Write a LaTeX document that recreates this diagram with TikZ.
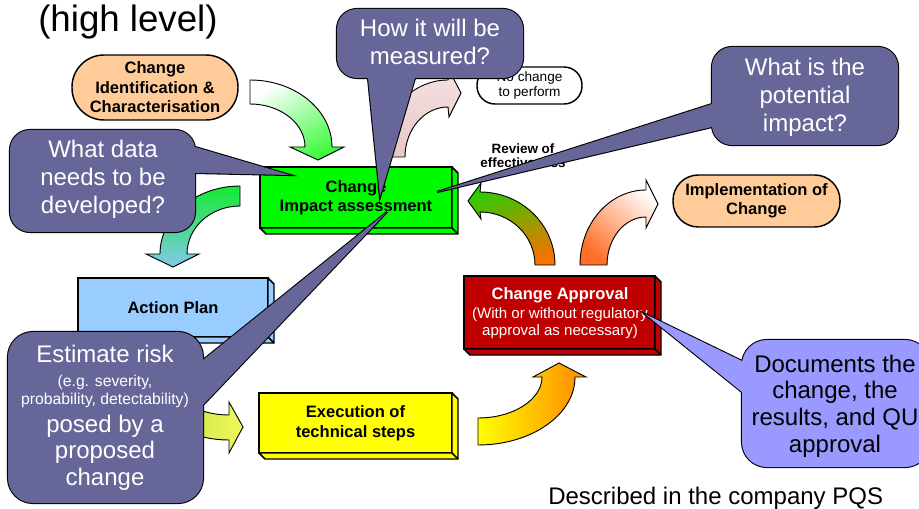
\documentclass[tikz,border=0pt]{standalone}
\usepackage{fontspec}
\setmainfont{Liberation Sans}
\usetikzlibrary{calc}
\definecolor{peach}{RGB}{255,204,153}
\definecolor{impgreen}{RGB}{0,250,0}
\definecolor{planblue}{RGB}{153,204,255}
\definecolor{execyellow}{RGB}{255,255,0}
\definecolor{apprred}{RGB}{192,0,0}
\definecolor{slate}{RGB}{102,102,153}
\definecolor{lilac}{RGB}{153,153,255}
\definecolor{agreen}{RGB}{60,250,60}
\definecolor{bgreen}{RGB}{20,235,50}
\definecolor{bblue}{RGB}{130,200,235}
\definecolor{cgreen}{RGB}{170,215,60}
\definecolor{cyellow}{RGB}{240,248,90}
\definecolor{dyellow}{RGB}{255,255,0}
\definecolor{dorange}{RGB}{255,136,0}
\definecolor{egreen}{RGB}{40,205,0}
\definecolor{eorange}{RGB}{245,115,0}
\definecolor{forange}{RGB}{255,110,40}
\definecolor{pinklight}{RGB}{245,225,225}
\definecolor{pinkdark}{RGB}{232,198,198}
% 3D extrusion of a box node
\newcommand{\extrude}[2]{%
  \draw[extr, fill=#2] (#1.north east) -- ([shift={(6,6)}]#1.north east) -- ([shift={(6,6)}]#1.south east) -- ([shift={(6,6)}]#1.south west) -- (#1.south west) -- (#1.south east) -- cycle;
  \draw[extr] (#1.south east) -- ([shift={(6,6)}]#1.south east);
}
% callout: #1 colour, #2 radius, #3 corner, #4 corner, #5 tip, #6 base1, #7 base2
\newcommand{\mycallout}[7]{%
  \draw[callline, rounded corners=#2] #3 rectangle #4;
  \draw[callline] #5 -- ($#5!1.25!#6$) -- ($#5!1.25!#7$) -- cycle;
  \fill[#1, rounded corners=#2] #3 rectangle #4;
  \fill[#1] #5 -- ($#5!1.25!#6$) -- ($#5!1.25!#7$) -- cycle;
}
\begin{document}
\begin{tikzpicture}[x=0.75pt,y=-0.75pt,
  box3d/.style={draw=black, line width=1.1pt, inner sep=0pt, outer sep=0pt, align=center, font=\fontsize{12.4pt}{14.6pt}\selectfont\bfseries},
  stadium/.style={draw=black, line width=1.1pt, fill=peach, inner sep=0pt, outer sep=0pt, align=center, font=\fontsize{12.4pt}{14.6pt}\selectfont\bfseries},
  extr/.style={draw=black, line width=1.1pt, line join=round},
  blockarrow/.style={draw=black, line width=0.7pt, line join=miter},
  callline/.style={draw=black, line width=1.6pt, line join=miter},
  calltext/.style={text=white, align=center, inner sep=0pt, font=\fontsize{18pt}{21pt}\selectfont},
  plain/.style={inner sep=0pt, anchor=base}]
\useasboundingbox (0,0) rectangle (919,509);

% ---------- block arrows ----------
% pink: impact -> no change
\path[blockarrow, top color=pinklight, bottom color=pinkdark]
 (380,157) .. controls (380,114.5) and (410.4,80) .. (448,80) -- (449,70) -- (461,93) -- (449,117) -- (448,107)
 .. controls (424.3,107) and (405,129.4) .. (405,157) -- cycle;
% green: identification -> impact
\path[blockarrow, top color=white, bottom color=agreen, shading angle=30]
 (250,80) .. controls (295.3,80) and (332,110) .. (332,147) -- (344,147) -- (318,160) -- (290,147) -- (305,147)
 .. controls (305,123.3) and (280.4,104) .. (250,104) -- cycle;
% green-blue: impact -> action plan
\path[blockarrow, top color=bgreen, bottom color=bblue]
 (240,186) .. controls (195.8,186) and (160,216.4) .. (160,254) -- (146,254) -- (173,267) -- (199,254) -- (187,254)
 .. controls (187,227.5) and (210.7,206) .. (240,206) -- cycle;
% yellow-green: action plan -> execution
\path[blockarrow, left color=cgreen, right color=cyellow]
 (125,345) .. controls (125,397.5) and (171.6,440) .. (229,440) -- (229,453) -- (243,427) -- (229,402) -- (229,415)
 .. controls (185.4,415) and (150,383.7) .. (150,345) -- cycle;
% yellow-orange: execution -> approval
\path[blockarrow, left color=dyellow, right color=dorange]
 (478,445) .. controls (531.6,445) and (575,414.6) .. (575,377) -- (586,377) -- (559,363) -- (533,377) -- (542,377)
 .. controls (542,399.6) and (513.3,418) .. (478,418) -- cycle;
% orange-green: approval -> impact
\path[blockarrow, top color=egreen, bottom color=eorange, shading angle=20]
 (555,265) .. controls (555,224.7) and (521.4,192) .. (480,192) -- (481,183) -- (468,201) -- (481,219) -- (480,212)
 .. controls (510.4,212) and (535,235.7) .. (535,265) -- cycle;
% orange-white: approval -> implementation
\path[blockarrow, bottom color=forange, top color=white, shading angle=-40]
 (580,265) .. controls (580,223.6) and (609.5,190) .. (646,190) -- (646,180) -- (658,204) -- (646,228) -- (646,217)
 .. controls (624.5,217) and (607,238.5) .. (607,265) -- cycle;

% ---------- boxes ----------
\node[stadium, minimum width=124.5pt, minimum height=48.75pt, rounded corners=24pt] (ident) at (155,87.5) {Change\\Identification \&\\Characterisation};
\node[stadium, minimum width=125.25pt, minimum height=39pt, rounded corners=19pt] (impl) at (756.5,201) {Implementation of\\Change};
\node[draw=black, line width=1.1pt, fill=white, inner sep=0pt, align=center, minimum width=78.75pt, minimum height=27.75pt, rounded corners=13.5pt, font=\fontsize{10.2pt}{11.25pt}\selectfont] (nochange) at (529.5,85.5) {No change\\to perform};

\node[box3d, fill=impgreen, minimum width=144pt, minimum height=45.75pt] (impact) at (356,197.5) {Change\\Impact assessment};
\extrude{impact}{impgreen}
\node[box3d, fill=planblue, minimum width=142.5pt, minimum height=44.25pt] (plan) at (173,307.5) {Action Plan};
\extrude{plan}{planblue}
\node[box3d, fill=execyellow, minimum width=144.75pt, minimum height=45pt] (exec) at (355.5,423) {Execution of\\technical steps};
\extrude{exec}{execyellow}
\node[box3d, fill=apprred, minimum width=143.25pt, minimum height=54.75pt] (appr) at (559.5,312.5) {};
\extrude{appr}{apprred}
\node[plain, text=white, font=\fontsize{12.4pt}{14.6pt}\selectfont\bfseries] (appr1) at (560,299) {Change Approval};
\node[plain, text=white, font=\fontsize{11.3pt}{13pt}\selectfont] (appr2) at (560,318) {(With or without regulatory};
\node[plain, text=white, font=\fontsize{11.3pt}{13pt}\selectfont] (appr3) at (560,335) {approval as necessary)};

\node[align=center, inner sep=0pt, font=\fontsize{10.1pt}{10.5pt}\selectfont\bfseries] (review) at (523,156) {Review of\\effectiveness};

% ---------- callouts ----------
\mycallout{slate}{15pt}{(10,130)}{(195,232)}{(290,175)}{(195,147)}{(197,173)}
\node[calltext] (qdata) at (103,179) {What data\\needs to be\\developed?};

\mycallout{slate}{18.75pt}{(8,332)}{(203,503)}{(387,212)}{(203,360)}{(203,405)}
\node[plain, text=white, font=\fontsize{18pt}{21pt}\selectfont] (risk1) at (105,362) {Estimate risk};
\node[plain, text=white, font=\fontsize{11.8pt}{13.5pt}\selectfont] (risk2) at (105,386) {(e.g. severity,};
\node[plain, text=white, font=\fontsize{11.8pt}{13.5pt}\selectfont] (risk3) at (105,404) {probability, detectability)};
\node[plain, text=white, font=\fontsize{18pt}{21pt}\selectfont] (risk4) at (105,432) {posed by a};
\node[plain, text=white, font=\fontsize{18pt}{21pt}\selectfont] (risk5) at (105,458) {proposed};
\node[plain, text=white, font=\fontsize{18pt}{21pt}\selectfont] (risk6) at (105,485) {change};

\mycallout{slate}{15pt}{(337,9)}{(523,78)}{(380,197)}{(368,78)}{(415,78)}
\node[calltext] (qmeas) at (430,42) {How it will be\\measured?};

\mycallout{slate}{15pt}{(712,47)}{(898,145)}{(437,192)}{(712,104)}{(712,127)}
\node[calltext] (qimpact) at (805,97) {What is the\\potential\\impact?};

\mycallout{lilac}{18.75pt}{(742,340)}{(930,467)}{(645,314)}{(742,361)}{(742,392)}
\node[calltext, text=black, font=\fontsize{18pt}{20pt}\selectfont] (qdoc) at (835,406) {Documents the\\change, the\\results, and QU\\approval};

% ---------- free texts ----------
\node[plain, anchor=base west, font=\fontsize{27.5pt}{30pt}\selectfont] (title) at (38,32) {(high level)};
\node[plain, anchor=base west, font=\fontsize{18pt}{21pt}\selectfont] (pqs) at (548,504) {Described in the company PQS};
\end{tikzpicture}
\end{document}
